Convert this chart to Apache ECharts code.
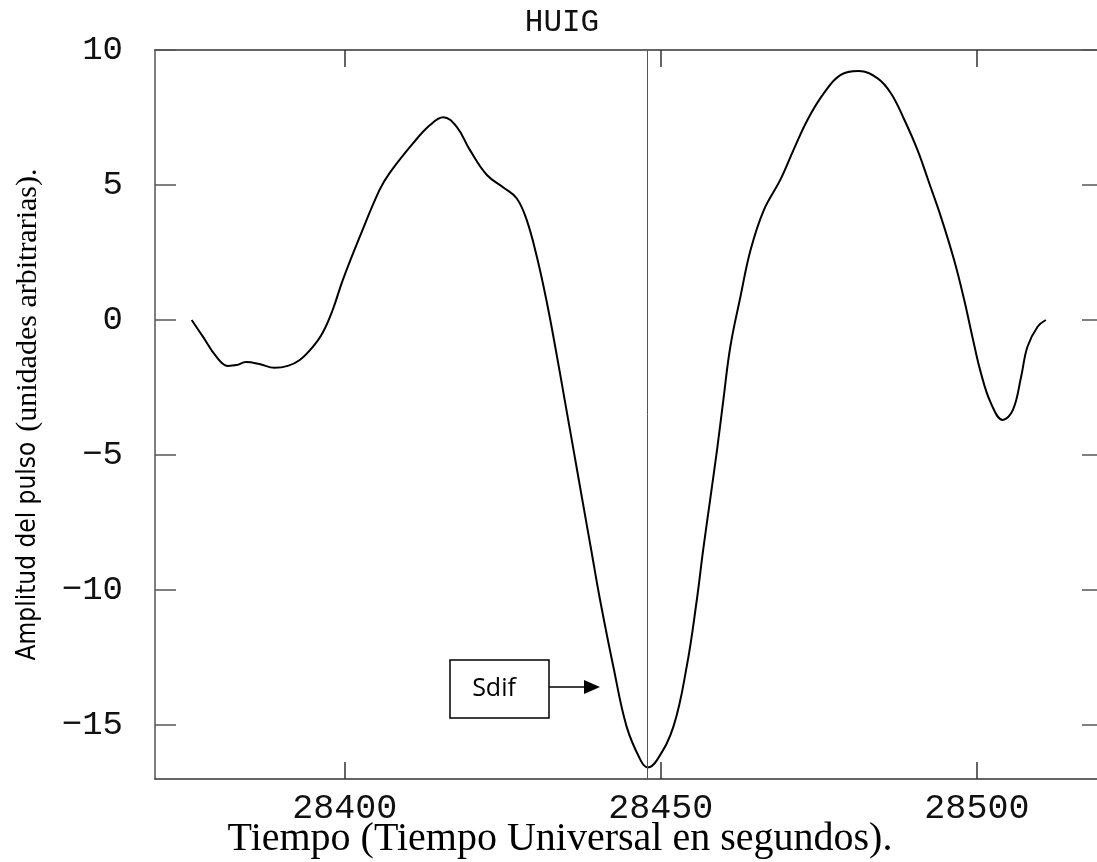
<!DOCTYPE html>
<html>
<head>
<meta charset="utf-8">
<script src="https://cdn.jsdelivr.net/npm/echarts@6/dist/echarts.min.js"></script>
<style>
  html, body { margin: 0; padding: 0; background: #fff; }
  #chart { width: 1097px; height: 862px; }
</style>
</head>
<body>
<div id="chart"></div>
<script>
// tiempo (s) y amplitud
var tiempos = [
    28375.8, 28377.5, 28379.7, 28381.5, 28382.9, 28384.4, 28386.5, 28388.9,
    28391.0, 28392.9, 28394.8, 28396.5, 28398.1, 28399.7, 28402.4, 28405.5,
    28407.1, 28410.8, 28413.5, 28415.6, 28417.7, 28419.8, 28422.5, 28425.1,
    28427.2, 28428.8, 28430.4, 28432.0, 28433.4, 28434.8, 28436.2, 28437.6,
    28439.0, 28440.4, 28442.5, 28444.6, 28446.8, 28447.9, 28449.4, 28452.0,
    28454.1, 28455.7, 28456.7, 28457.8, 28458.9, 28459.9, 28461.0, 28462.6,
    28464.2, 28466.3, 28468.9, 28471.0, 28473.2, 28475.8, 28478.4, 28481.3,
    28484.3, 28486.4, 28488.4, 28490.6, 28492.4, 28494.3, 28496.4, 28498.0,
    28499.4, 28500.6, 28502.2, 28504.1, 28505.7, 28507.0, 28508.0, 28509.6,
    28510.9
];
var amplitudes = [
    0, -0.59, -1.36, -1.70, -1.67, -1.56, -1.63, -1.77,
    -1.70, -1.48, -1.04, -0.48, 0.37, 1.48, 3.09, 4.81,
    5.44, 6.54, 7.22, 7.51, 7.16, 6.30, 5.37, 4.91,
    4.51, 3.70, 2.34, 0.63, -1.11, -2.96, -4.81, -6.67,
    -8.52, -10.37, -12.84, -15.06, -16.30, -16.57, -16.30, -15.06,
    -12.84, -10.37, -8.52, -6.67, -4.81, -2.96, -0.99, 0.86,
    2.59, 4.07, 5.19, 6.30, 7.41, 8.40, 9.07, 9.22,
    8.95, 8.40, 7.48, 6.30, 5.11, 3.83, 2.22, 0.74,
    -0.74, -1.93, -3.07, -3.70, -3.33, -2.10, -0.99, -0.25,
    0
];
var xTicks = [28400, 28450, 28500];
var yTicks = [-15, -10, -5, 0, 5, 10];
var tiempoSdif = 28447.9; // linea vertical

var tickFont = "'Liberation Mono', 'DejaVu Sans Mono', monospace";

var chart = echarts.init(document.getElementById('chart'));

function xAxisCfg(pos) {
    return {
        type: 'value',
        position: pos,
        min: 28370,
        max: 28519,
        splitLine: { show: false },
        axisLine: { show: true, onZero: false, lineStyle: { color: '#333', width: 1.5 } },
        axisTick: {
            show: true, inside: true, length: 17,
            customValues: xTicks,
            lineStyle: { color: '#333', width: 1.5 }
        },
        axisLabel: {
            show: pos === 'bottom',
            customValues: xTicks,
            margin: 12,
            fontFamily: tickFont,
            fontSize: 35,
            color: '#111',
            formatter: function (v) { return String(v); }
        }
    };
}

function yAxisCfg(pos) {
    var cfg = {
        type: 'value',
        position: pos,
        min: -17,
        max: 10,
        splitLine: { show: false },
        axisLine: { show: pos === 'left', onZero: false, lineStyle: { color: '#555', width: 1.5 } },
        axisTick: {
            show: true, inside: true, length: pos === 'left' ? 21 : 15,
            customValues: yTicks,
            lineStyle: { color: '#555', width: 1.5 }
        },
        axisLabel: {
            show: pos === 'left',
            customValues: yTicks,
            margin: 32,
            fontFamily: tickFont,
            fontSize: 34,
            color: '#111',
            formatter: function (v) { return String(v).replace('-', '\u2212'); }
        }
    };
    if (pos === 'left') {
        cfg.name = '{a|Amplitud del pulso}   {b|(unidades arbitrarias).}';
        cfg.nameLocation = 'middle';
        cfg.nameGap = 112;
        cfg.nameRotate = 90;
        cfg.nameTextStyle = {
            color: '#000',
            rich: {
                a: { fontFamily: "'Liberation Sans Narrow', 'DejaVu Sans Condensed', sans-serif", fontSize: 26, color: '#000' },
                b: { fontFamily: "'Liberation Serif', serif", fontSize: 30, color: '#000' }
            }
        };
    }
    return cfg;
}

var option = {
    backgroundColor: '#fff',
    animation: false,
    grid: { left: 155, right: 0, top: 50, bottom: 83 },
    xAxis: [xAxisCfg('bottom'), xAxisCfg('top')],
    yAxis: [yAxisCfg('left'), yAxisCfg('right')],
    graphic: [
        {
            type: 'text', x: 562, y: 23,
            style: { text: 'HUIG', font: "31px 'Liberation Mono', monospace", fill: '#111', textAlign: 'center', textVerticalAlign: 'middle' }
        },
        {
            type: 'text', x: 560, y: 839,
            style: { text: 'Tiempo (Tiempo Universal en segundos).', font: "40px 'Liberation Serif', serif", fill: '#000', textAlign: 'center', textVerticalAlign: 'middle' }
        },
        {
            type: 'rect', shape: { x: 450, y: 660, width: 99, height: 58 },
            style: { fill: '#fff', stroke: '#000', lineWidth: 1.5 }
        },
        {
            type: 'text', x: 494, y: 689,
            style: { text: 'Sdif', font: "25px 'Open Sans', 'Liberation Sans', sans-serif", fill: '#000', textAlign: 'center', textVerticalAlign: 'middle' }
        },
        {
            type: 'line', shape: { x1: 549, y1: 687, x2: 586, y2: 687 },
            style: { stroke: '#000', lineWidth: 1.5 }
        },
        {
            type: 'polygon', shape: { points: [[584, 680], [600, 687], [584, 694]] },
            style: { fill: '#000' }
        }
    ],
    series: [
        {
            type: 'line',
            xAxisIndex: 0,
            yAxisIndex: 0,
            data: tiempos.map(function (t, i) { return [t, amplitudes[i]]; }),
            smooth: 0.4,
            showSymbol: false,
            lineStyle: { color: '#000', width: 2 },
            markLine: {
                silent: true,
                symbol: 'none',
                label: { show: false },
                lineStyle: { color: '#555', width: 1, type: 'solid' },
                data: [{ xAxis: tiempoSdif }]
            }
        }
    ]
};

chart.setOption(option);
</script>
</body>
</html>
